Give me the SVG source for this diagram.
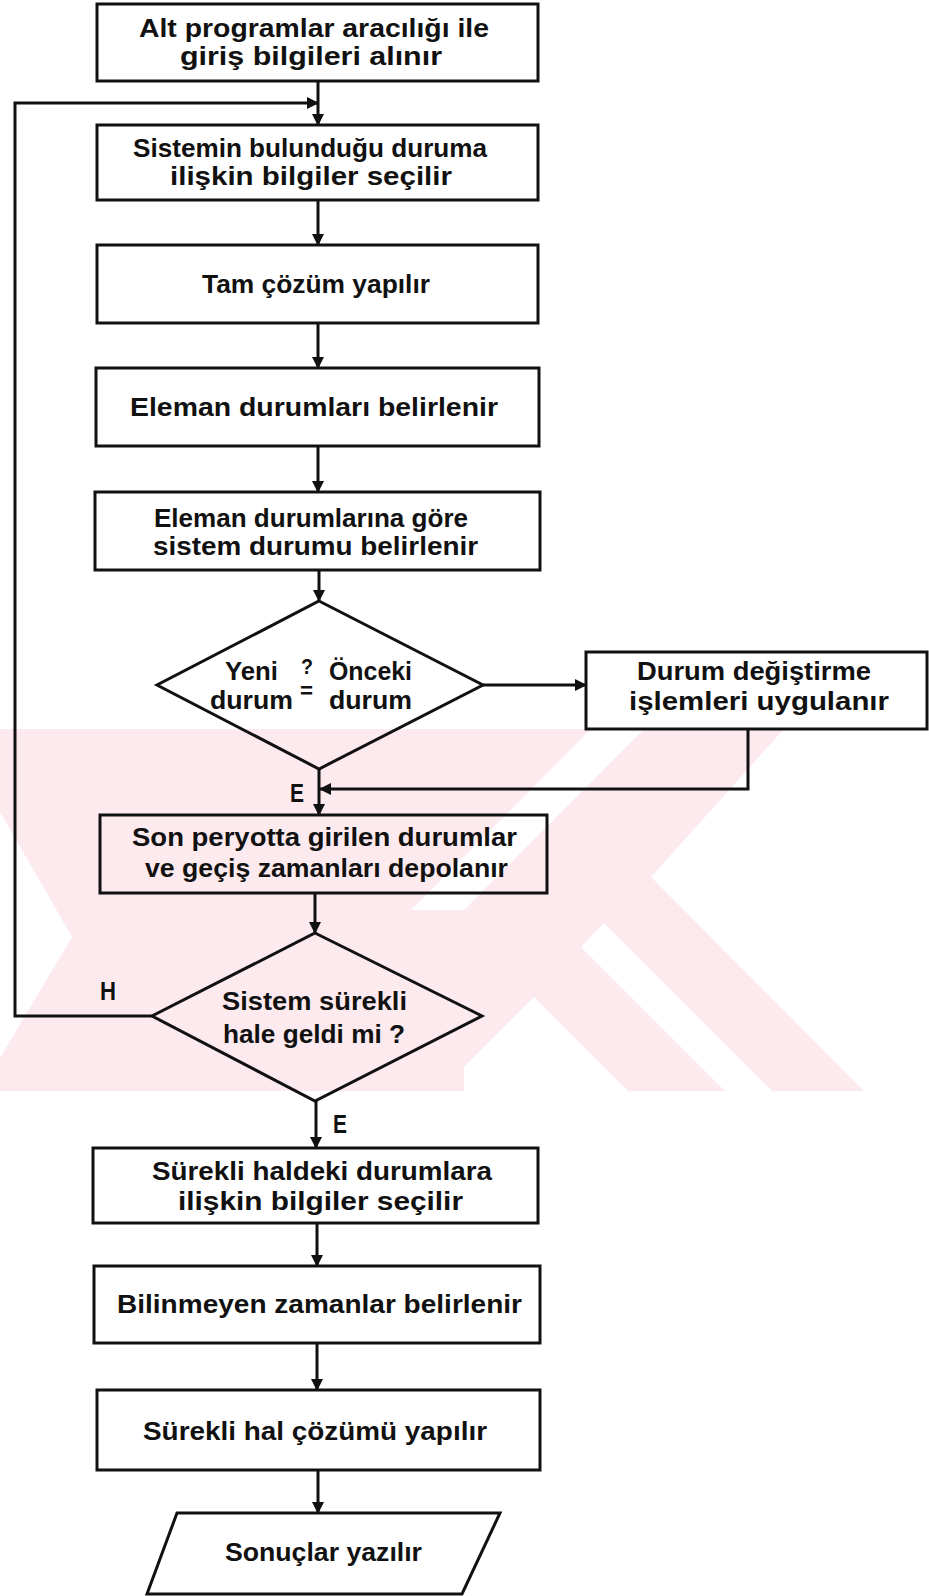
<svg xmlns="http://www.w3.org/2000/svg" width="929" height="1596" viewBox="0 0 929 1596">
<defs>
<marker id="ah" markerUnits="userSpaceOnUse" markerWidth="12" markerHeight="12" refX="11" refY="6" orient="auto"><path d="M0,0 L12,6 L0,12 z" fill="#111"/></marker>
<style>
.n{fill:none;stroke:#111;stroke-width:3}
.c{fill:none;stroke:#111;stroke-width:3}
.t{font-family:"Liberation Sans",Arial,sans-serif;font-weight:bold;font-size:25px;fill:#111}
.s{font-family:"Liberation Sans",Arial,sans-serif;font-weight:bold;font-size:22px;fill:#111}
.wm{fill:#fdeaee}
.ww{fill:#ffffff}
</style>
</defs>
<rect x="0" y="0" width="929" height="1596" fill="#ffffff"/>
<g id="watermark">
<polygon class="wm" points="0,729 784,729 651,877 864,1091 0,1091"/>
<polygon class="ww" points="591,729 644,729 464,910 411,910"/>
<polygon class="ww" points="604,923 772,1091 725,1091 581,947"/>
<polygon class="ww" points="464,1067 534,997 628,1091 464,1091"/>
<polygon class="ww" points="0,812 72,937 0,1058"/>
</g>
<g id="connectors">
<line class="c" x1="318" y1="81" x2="318" y2="125" marker-end="url(#ah)"/>
<polyline class="c" points="152,1016 15,1016 15,103 318,103" marker-end="url(#ah)"/>
<line class="c" x1="318" y1="200" x2="318" y2="245" marker-end="url(#ah)"/>
<line class="c" x1="318" y1="323" x2="318" y2="368" marker-end="url(#ah)"/>
<line class="c" x1="318" y1="446" x2="318" y2="492" marker-end="url(#ah)"/>
<line class="c" x1="319" y1="570" x2="319" y2="601" marker-end="url(#ah)"/>
<line class="c" x1="483" y1="685" x2="586" y2="685" marker-end="url(#ah)"/>
<polyline class="c" points="748,729 748,789 320,789" marker-end="url(#ah)"/>
<line class="c" x1="319" y1="769" x2="319" y2="815" marker-end="url(#ah)"/>
<line class="c" x1="315" y1="893" x2="315" y2="933" marker-end="url(#ah)"/>
<line class="c" x1="316" y1="1101" x2="316" y2="1148" marker-end="url(#ah)"/>
<line class="c" x1="317" y1="1223" x2="317" y2="1266" marker-end="url(#ah)"/>
<line class="c" x1="317" y1="1343" x2="317" y2="1390" marker-end="url(#ah)"/>
<line class="c" x1="318" y1="1470" x2="318" y2="1513" marker-end="url(#ah)"/>
<text class="t" x="290" y="802" textLength="14" lengthAdjust="spacingAndGlyphs">E</text>
<text class="t" x="100" y="1000" textLength="16" lengthAdjust="spacingAndGlyphs">H</text>
<text class="t" x="333" y="1133" textLength="14" lengthAdjust="spacingAndGlyphs">E</text>
</g>
<g id="n1">
<rect class="n" x="97" y="4" width="441" height="77"/>
<text class="t" x="139" y="37" textLength="350" lengthAdjust="spacingAndGlyphs">Alt programlar aracılığı ile</text>
<text class="t" x="180" y="65" textLength="262" lengthAdjust="spacingAndGlyphs">giriş bilgileri alınır</text>
</g>
<g id="n2">
<rect class="n" x="97" y="125" width="441" height="75"/>
<text class="t" x="133" y="157" textLength="354" lengthAdjust="spacingAndGlyphs">Sistemin bulunduğu duruma</text>
<text class="t" x="170" y="185" textLength="282" lengthAdjust="spacingAndGlyphs">ilişkin bilgiler seçilir</text>
</g>
<g id="n3">
<rect class="n" x="97" y="245" width="441" height="78"/>
<text class="t" x="202" y="293" textLength="228" lengthAdjust="spacingAndGlyphs">Tam çözüm yapılır</text>
</g>
<g id="n4">
<rect class="n" x="96" y="368" width="443" height="78"/>
<text class="t" x="130" y="416" textLength="368" lengthAdjust="spacingAndGlyphs">Eleman durumları belirlenir</text>
</g>
<g id="n5">
<rect class="n" x="95" y="492" width="445" height="78"/>
<text class="t" x="154" y="527" textLength="314" lengthAdjust="spacingAndGlyphs">Eleman durumlarına göre</text>
<text class="t" x="153" y="555" textLength="325" lengthAdjust="spacingAndGlyphs">sistem durumu belirlenir</text>
</g>
<g id="d1">
<polygon class="n" points="319,601 483,685 319,769 157,685"/>
<text class="t" x="225" y="680" textLength="53" lengthAdjust="spacingAndGlyphs">Yeni</text>
<text class="s" x="301" y="674" textLength="12" lengthAdjust="spacingAndGlyphs">?</text>
<text class="s" x="300" y="698" textLength="13" lengthAdjust="spacingAndGlyphs">=</text>
<text class="t" x="329" y="680" textLength="83" lengthAdjust="spacingAndGlyphs">Önceki</text>
<text class="t" x="210" y="709" textLength="83" lengthAdjust="spacingAndGlyphs">durum</text>
<text class="t" x="329" y="709" textLength="83" lengthAdjust="spacingAndGlyphs">durum</text>
</g>
<g id="n6">
<rect class="n" x="586" y="652" width="341" height="77"/>
<text class="t" x="637" y="680" textLength="234" lengthAdjust="spacingAndGlyphs">Durum değiştirme</text>
<text class="t" x="629" y="710" textLength="260" lengthAdjust="spacingAndGlyphs">işlemleri uygulanır</text>
</g>
<g id="n7">
<rect class="n" x="100" y="815" width="447" height="78"/>
<text class="t" x="132" y="846" textLength="385" lengthAdjust="spacingAndGlyphs">Son peryotta girilen durumlar</text>
<text class="t" x="145" y="877" textLength="363" lengthAdjust="spacingAndGlyphs">ve geçiş zamanları depolanır</text>
</g>
<g id="d2">
<polygon class="n" points="315,933 482,1016 315,1101 152,1016"/>
<text class="t" x="222" y="1010" textLength="185" lengthAdjust="spacingAndGlyphs">Sistem sürekli</text>
<text class="t" x="223" y="1043" textLength="182" lengthAdjust="spacingAndGlyphs">hale geldi mi ?</text>
</g>
<g id="n8">
<rect class="n" x="93" y="1148" width="445" height="75"/>
<text class="t" x="152" y="1180" textLength="340" lengthAdjust="spacingAndGlyphs">Sürekli haldeki durumlara</text>
<text class="t" x="178" y="1210" textLength="285" lengthAdjust="spacingAndGlyphs">ilişkin bilgiler seçilir</text>
</g>
<g id="n9">
<rect class="n" x="94" y="1266" width="446" height="77"/>
<text class="t" x="117" y="1313" textLength="405" lengthAdjust="spacingAndGlyphs">Bilinmeyen zamanlar belirlenir</text>
</g>
<g id="n10">
<rect class="n" x="97" y="1390" width="443" height="80"/>
<text class="t" x="143" y="1440" textLength="344" lengthAdjust="spacingAndGlyphs">Sürekli hal çözümü yapılır</text>
</g>
<g id="n11">
<polygon class="n" points="177,1513 500,1513 462,1594 147,1594"/>
<text class="t" x="225" y="1561" textLength="197" lengthAdjust="spacingAndGlyphs">Sonuçlar yazılır</text>
</g>
</svg>
